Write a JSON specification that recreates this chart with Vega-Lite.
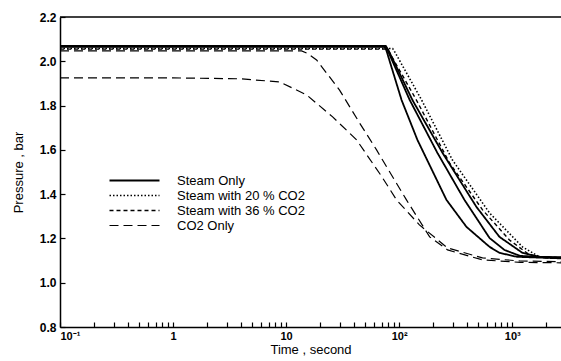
{
  "$schema": "https://vega.github.io/schema/vega-lite/v6.json",
  "width": 501,
  "height": 310,
  "autosize": {"type": "none"},
  "padding": {"left": 60, "top": 17, "right": 0, "bottom": 34},
  "config": {
    "view": {"stroke": null},
    "font": "Liberation Sans",
    "axis": {
      "domainColor": "black",
      "domainWidth": 1.5,
      "tickColor": "black",
      "tickWidth": 1.2,
      "labelColor": "black",
      "labelFont": "Liberation Sans",
      "labelFontWeight": "bold",
      "labelFontSize": 12,
      "titleFont": "Liberation Sans",
      "titleFontWeight": "normal",
      "titleFontSize": 13,
      "titleColor": "black",
      "grid": false,
      "labelOverlap": false,
      "labelBound": false,
      "labelFlush": false
    },
    "legend": {
      "orient": "none",
      "legendX": 68,
      "legendY": 157,
      "symbolType": "M-10,0H10",
      "symbolSize": 25,
      "symbolStrokeWidth": 2,
      "symbolStrokeColor": "black",
      "symbolFillColor": "transparent",
      "labelFont": "Liberation Sans",
      "labelFontSize": 13,
      "labelColor": "black",
      "labelOffset": 36,
      "rowPadding": 1
    }
  },
  "layer": [
    {
      "data": {"values": [{"p": 2.2}]},
      "mark": {"type": "rule", "color": "black", "strokeWidth": 1.5},
      "encoding": {
        "y": {"field": "p", "type": "quantitative", "scale": {"domain": [0.8, 2.2]}}
      }
    },
    {
      "data": {
        "values": [
          {"series": "Steam Only", "curve": "A", "t": 0.1, "p": 2.065},
          {"series": "Steam Only", "curve": "A", "t": 74, "p": 2.065},
          {"series": "Steam Only", "curve": "A", "t": 77, "p": 2.05},
          {"series": "Steam Only", "curve": "A", "t": 105, "p": 1.825},
          {"series": "Steam Only", "curve": "A", "t": 145, "p": 1.645},
          {"series": "Steam Only", "curve": "A", "t": 262, "p": 1.374},
          {"series": "Steam Only", "curve": "A", "t": 394, "p": 1.252},
          {"series": "Steam Only", "curve": "A", "t": 630, "p": 1.162},
          {"series": "Steam Only", "curve": "A", "t": 771, "p": 1.135},
          {"series": "Steam Only", "curve": "A", "t": 1100, "p": 1.117},
          {"series": "Steam Only", "curve": "A", "t": 2700, "p": 1.11},
          {"series": "Steam Only", "curve": "B", "t": 0.1, "p": 2.068},
          {"series": "Steam Only", "curve": "B", "t": 75, "p": 2.068},
          {"series": "Steam Only", "curve": "B", "t": 79, "p": 2.05},
          {"series": "Steam Only", "curve": "B", "t": 124, "p": 1.825},
          {"series": "Steam Only", "curve": "B", "t": 218, "p": 1.586},
          {"series": "Steam Only", "curve": "B", "t": 378, "p": 1.374},
          {"series": "Steam Only", "curve": "B", "t": 630, "p": 1.202},
          {"series": "Steam Only", "curve": "B", "t": 853, "p": 1.148},
          {"series": "Steam Only", "curve": "B", "t": 1175, "p": 1.121},
          {"series": "Steam Only", "curve": "B", "t": 2700, "p": 1.113},
          {"series": "Steam Only", "curve": "C", "t": 0.1, "p": 2.07},
          {"series": "Steam Only", "curve": "C", "t": 76, "p": 2.07},
          {"series": "Steam Only", "curve": "C", "t": 80, "p": 2.052},
          {"series": "Steam Only", "curve": "C", "t": 131, "p": 1.825},
          {"series": "Steam Only", "curve": "C", "t": 242, "p": 1.586},
          {"series": "Steam Only", "curve": "C", "t": 483, "p": 1.342},
          {"series": "Steam Only", "curve": "C", "t": 771, "p": 1.207},
          {"series": "Steam Only", "curve": "C", "t": 1230, "p": 1.135},
          {"series": "Steam Only", "curve": "C", "t": 1738, "p": 1.117},
          {"series": "Steam Only", "curve": "C", "t": 2700, "p": 1.115},
          {"series": "Steam with 20 % CO2", "curve": "D", "t": 0.1, "p": 2.058},
          {"series": "Steam with 20 % CO2", "curve": "D", "t": 87.5, "p": 2.058},
          {"series": "Steam with 20 % CO2", "curve": "D", "t": 92, "p": 2.04},
          {"series": "Steam with 20 % CO2", "curve": "D", "t": 158, "p": 1.825},
          {"series": "Steam with 20 % CO2", "curve": "D", "t": 296, "p": 1.554},
          {"series": "Steam with 20 % CO2", "curve": "D", "t": 630, "p": 1.315},
          {"series": "Steam with 20 % CO2", "curve": "D", "t": 1230, "p": 1.162},
          {"series": "Steam with 20 % CO2", "curve": "D", "t": 1738, "p": 1.117},
          {"series": "Steam with 20 % CO2", "curve": "D", "t": 2700, "p": 1.112},
          {"series": "Steam with 36 % CO2", "curve": "E", "t": 0.1, "p": 2.055},
          {"series": "Steam with 36 % CO2", "curve": "E", "t": 78, "p": 2.055},
          {"series": "Steam with 36 % CO2", "curve": "E", "t": 82, "p": 2.04},
          {"series": "Steam with 36 % CO2", "curve": "E", "t": 142, "p": 1.825},
          {"series": "Steam with 36 % CO2", "curve": "E", "t": 279, "p": 1.541},
          {"series": "Steam with 36 % CO2", "curve": "E", "t": 546, "p": 1.329},
          {"series": "Steam with 36 % CO2", "curve": "E", "t": 945, "p": 1.193},
          {"series": "Steam with 36 % CO2", "curve": "E", "t": 1419, "p": 1.126},
          {"series": "Steam with 36 % CO2", "curve": "E", "t": 1923, "p": 1.112},
          {"series": "Steam with 36 % CO2", "curve": "E", "t": 2700, "p": 1.11},
          {"series": "CO2  Only", "curve": "F", "t": 0.1, "p": 2.047},
          {"series": "CO2  Only", "curve": "F", "t": 13.7, "p": 2.047},
          {"series": "CO2  Only", "curve": "F", "t": 15.5, "p": 2.035},
          {"series": "CO2  Only", "curve": "F", "t": 18.6, "p": 2.006},
          {"series": "CO2  Only", "curve": "F", "t": 29.7, "p": 1.87},
          {"series": "CO2  Only", "curve": "F", "t": 44.7, "p": 1.721},
          {"series": "CO2  Only", "curve": "F", "t": 63.1, "p": 1.6},
          {"series": "CO2  Only", "curve": "F", "t": 71.3, "p": 1.554},
          {"series": "CO2  Only", "curve": "F", "t": 116, "p": 1.374},
          {"series": "CO2  Only", "curve": "F", "t": 186, "p": 1.207},
          {"series": "CO2  Only", "curve": "F", "t": 268, "p": 1.148},
          {"series": "CO2  Only", "curve": "F", "t": 546, "p": 1.103},
          {"series": "CO2  Only", "curve": "F", "t": 1175, "p": 1.092},
          {"series": "CO2  Only", "curve": "F", "t": 2700, "p": 1.09},
          {"series": "CO2  Only", "curve": "G", "t": 0.1, "p": 1.925},
          {"series": "CO2  Only", "curve": "G", "t": 1, "p": 1.925},
          {"series": "CO2  Only", "curve": "G", "t": 3.9, "p": 1.921},
          {"series": "CO2  Only", "curve": "G", "t": 8.77, "p": 1.907},
          {"series": "CO2  Only", "curve": "G", "t": 15.2, "p": 1.848},
          {"series": "CO2  Only", "curve": "G", "t": 25.8, "p": 1.749},
          {"series": "CO2  Only", "curve": "G", "t": 42, "p": 1.645},
          {"series": "CO2  Only", "curve": "G", "t": 70, "p": 1.48},
          {"series": "CO2  Only", "curve": "G", "t": 94.8, "p": 1.374},
          {"series": "CO2  Only", "curve": "G", "t": 151, "p": 1.261},
          {"series": "CO2  Only", "curve": "G", "t": 268, "p": 1.157},
          {"series": "CO2  Only", "curve": "G", "t": 546, "p": 1.112},
          {"series": "CO2  Only", "curve": "G", "t": 1175, "p": 1.098},
          {"series": "CO2  Only", "curve": "G", "t": 2700, "p": 1.095}
        ]
      },
      "mark": {"type": "line", "clip": true, "color": "black"},
      "encoding": {
        "x": {
          "field": "t",
          "type": "quantitative",
          "scale": {"type": "log", "domain": [0.1, 2700], "nice": false},
          "axis": {
            "title": "Time , second",
            "values": [0.1, 0.2, 0.3, 0.4, 0.5, 0.6, 0.7, 0.8, 0.9, 1, 2, 3, 4, 5, 6, 7, 8, 9, 10, 20, 30, 40, 50, 60, 70, 80, 90, 100, 200, 300, 400, 500, 600, 700, 800, 900, 1000, 2000],
            "labelExpr": "datum.value == 0.1 ? '10⁻¹' : datum.value == 1 ? '1' : datum.value == 10 ? '10' : datum.value == 100 ? '10²' : datum.value == 1000 ? '10³' : ''",
            "tickSize": -5,
            "labelFontSize": 11,
            "labelFlush": true,
            "labelPadding": 8,
            "titlePadding": 2
          }
        },
        "y": {
          "field": "p",
          "type": "quantitative",
          "scale": {"domain": [0.8, 2.2], "nice": false, "zero": false},
          "axis": {
            "title": "Pressure , bar",
            "values": [0.8, 0.85, 0.9, 0.95, 1.0, 1.05, 1.1, 1.15, 1.2, 1.25, 1.3, 1.35, 1.4, 1.45, 1.5, 1.55, 1.6, 1.65, 1.7, 1.75, 1.8, 1.85, 1.9, 1.95, 2.0, 2.05, 2.1, 2.15, 2.2],
            "labelExpr": "abs(datum.value*5 - round(datum.value*5)) < 0.01 ? format(datum.value, '.1f') : ''",
            "tickSize": -5,
            "labelPadding": 9,
            "titlePadding": 14
          }
        },
        "detail": {"field": "curve"},
        "strokeDash": {
          "field": "series",
          "type": "nominal",
          "scale": {
            "domain": ["Steam Only", "Steam with 20 % CO2", "Steam with 36 % CO2", "CO2  Only"],
            "range": [[1, 0], [1.5, 2], [4, 3], [9, 5]]
          },
          "legend": {"title": null}
        },
        "strokeWidth": {
          "field": "series",
          "type": "nominal",
          "scale": {
            "domain": ["Steam Only", "Steam with 20 % CO2", "Steam with 36 % CO2", "CO2  Only"],
            "range": [1.8, 1.2, 2, 2]
          },
          "legend": null
        }
      }
    }
  ]
}
